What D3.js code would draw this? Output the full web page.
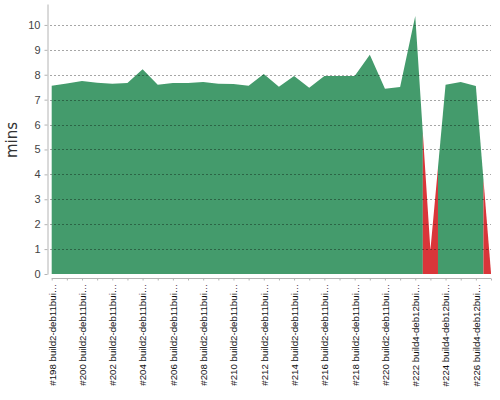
<!DOCTYPE html>
<html>
<head>
<meta charset="utf-8">
<script src="https://cdn.jsdelivr.net/npm/d3@7"></script>
<style>
  body { margin: 0; background: #fff; }
  svg { display: block; font-family: "DejaVu Sans", sans-serif; }
  .axis path, .axis line { stroke: #b4b4b4; }
  .y.axis text { fill: #444; font-size: 11px; }
  .x.axis text { fill: #111; font-size: 9.7px; }
  .grid line { stroke: #000; stroke-opacity: 0.35; stroke-dasharray: 2,2; }
</style>
</head>
<body>
<div id="chart"></div>
<script>
// build numbers, durations in minutes, and the result of each build
const builds = [198, 199, 200, 201, 202, 203, 204, 205, 206, 207,
  208, 209, 210, 211, 212, 213, 214, 215, 216, 217,
  218, 219, 220, 221, 222, 223, 224, 225, 226, 227];
const minutes = [7.56, 7.65, 7.75, 7.68, 7.64, 7.67, 8.22, 7.6, 7.67, 7.67,
  7.71, 7.64, 7.63, 7.56, 8.03, 7.52, 7.95, 7.48, 7.95, 7.95,
  7.95, 8.8, 7.44, 7.51, 10.36, 0.96, 7.6, 7.71, 7.55, 0.05];
const results = ['ok', 'ok', 'ok', 'ok', 'ok', 'ok', 'ok', 'ok', 'ok', 'ok',
  'ok', 'ok', 'ok', 'ok', 'ok', 'ok', 'ok', 'ok', 'ok', 'ok',
  'ok', 'ok', 'ok', 'ok', 'ok', 'fail', 'ok', 'ok', 'ok', 'fail'];
// only every other label fits under the axis
const labelBuilds = [198, 200, 202, 204, 206, 208, 210, 212, 214, 216, 218, 220, 222, 224, 226];
const labelTexts = ['#198 build2-deb11bui…', '#200 build2-deb11bui…', '#202 build2-deb11bui…',
  '#204 build2-deb11bui…', '#206 build2-deb11bui…', '#208 build2-deb11bui…',
  '#210 build2-deb11bui…', '#212 build2-deb11bui…', '#214 build2-deb11bui…',
  '#216 build2-deb11bui…', '#218 build2-deb11bui…', '#220 build2-deb11bui…',
  '#222 build4-deb12bui…', '#224 build4-deb12bui…', '#226 build4-deb12bui…'];
const yTicks = [0, 1, 2, 3, 4, 5, 6, 7, 8, 9, 10];

const colors = { ok: '#449b6c', fail: '#d9363a' };
const width = 500, height = 400;

const svg = d3.select('#chart').append('svg')
  .attr('width', width)
  .attr('height', height);

const x = d3.scalePoint()
  .domain(builds)
  .range([51.7, 491]);

const y = d3.scaleLinear()
  .domain([0, 10.84])
  .range([274, 4]);

const data = builds.map((b, i) => ({ build: b, value: minutes[i], result: results[i] }));

// each build owns the span between the midpoints to its neighbours,
// so consecutive builds with the same result are drawn as one run
let runs = [];
data.forEach((d, i) => {
  let last = runs[runs.length - 1];
  if (last && last.result === d.result) last.items.push(i);
  else runs.push({ result: d.result, items: [i] });
});

const area = d3.area()
  .x((p) => p.x)
  .y0(y(0))
  .y1((p) => y(p.v));

function runPoints(run) {
  let first = run.items[0], lastI = run.items[run.items.length - 1];
  let pts = [];
  if (first > 0) {
    pts.push({ x: (x(builds[first - 1]) + x(builds[first])) / 2, v: (minutes[first - 1] + minutes[first]) / 2 });
  }
  run.items.forEach((i) => pts.push({ x: x(builds[i]), v: minutes[i] }));
  if (lastI < builds.length - 1) {
    pts.push({ x: (x(builds[lastI]) + x(builds[lastI + 1])) / 2, v: (minutes[lastI] + minutes[lastI + 1]) / 2 });
  }
  return pts;
}

svg.selectAll('.run')
  .data(runs)
  .enter()
  .append('path')
  .attr('class', 'run')
  .attr('fill', (r) => colors[r.result])
  .attr('d', (r) => area(runPoints(r)));

// dashed grid on top, like the translucent plot of the original
svg.append('g')
  .attr('class', 'grid')
  .selectAll('line')
  .data(yTicks.filter((t) => t > 0))
  .enter()
  .append('line')
  .attr('x1', 50)
  .attr('x2', 491)
  .attr('y1', (t) => Math.round(y(t)) + 0.5)
  .attr('y2', (t) => Math.round(y(t)) + 0.5);

const yAxis = d3.axisLeft(y)
  .tickValues(yTicks)
  .tickFormat(d3.format('d'))
  .tickSizeInner(3)
  .tickSizeOuter(0)
  .tickPadding(4);

svg.append('g')
  .attr('class', 'y axis')
  .attr('transform', 'translate(47.5,0)')
  .call(yAxis);

const labelOf = {};
labelBuilds.forEach((b, i) => { labelOf[b] = labelTexts[i]; });

const xAxis = d3.axisBottom(x)
  .tickSizeInner(2)
  .tickSizeOuter(0)
  .tickFormat((b) => labelOf[b] || '');

const xele = svg.append('g')
  .attr('class', 'x axis')
  .attr('transform', 'translate(0,278.5)')
  .call(xAxis);

xele.select('.domain').attr('d', 'M' + x.range()[0] + ',0H' + x.range()[1]);

xele.selectAll('text')
  .attr('transform', 'rotate(-90)')
  .attr('x', -5)
  .attr('y', 0)
  .attr('dy', '0.35em')
  .style('text-anchor', 'end');

svg.append('text')
  .attr('transform', 'translate(17,140) rotate(-90)')
  .attr('text-anchor', 'middle')
  .style('font-size', '15px')
  .style('fill', '#333')
  .text('mins');
</script>
</body>
</html>
